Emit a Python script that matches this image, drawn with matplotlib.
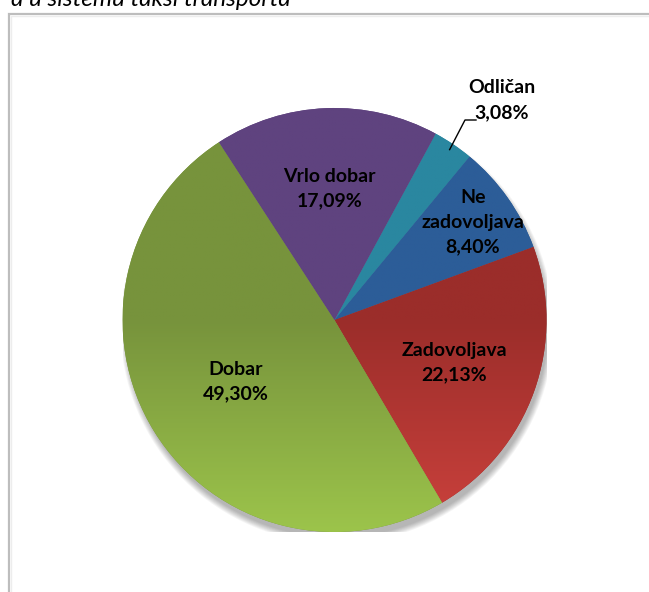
import matplotlib
matplotlib.use("Agg")
import matplotlib.pyplot as plt
import matplotlib.colors as mcolors
from matplotlib.patches import Rectangle, Circle
import numpy as np

categories = ["Odličan", "Ne\nzadovoljava", "Zadovoljava", "Dobar", "Vrlo dobar"]
values = [3.08, 8.40, 22.13, 49.30, 17.09]
colors = ["#2A87A0", "#2C5D98", "#9B2D2A", "#77933C", "#5F437F"]
light_colors = ["#3AA3C0", "#3A72B5", "#CC423D", "#9CC44B", "#7456A0"]
title_text = "a u sistemu taksi transporta"

W, H = 649, 592
fig = plt.figure(figsize=(W / 100, H / 100), dpi=100)
fig.patch.set_facecolor("white")

# frame of the chart area
fig.patches.append(Rectangle((9 / W, -0.1), 1.2, (H - 13.5) / H + 0.1,
                             transform=fig.transFigure, fill=False,
                             edgecolor="#BDBDBD", linewidth=1.6))
fig.patches.append(Rectangle((11 / W, -0.1), 1.2, (H - 15.5) / H + 0.1,
                             transform=fig.transFigure, fill=False,
                             edgecolor="#EDEDED", linewidth=1.0))

# cut-off title (only its lower part is visible, as in the reference)
fig.text(291 / W, 1 - 6 / H, title_text, ha="right", va="baseline",
         fontsize=17.5, style="italic", family="Lato", color="#000000")

cx, cy, r = 334.5, 320, 212
ax = fig.add_axes([(cx - r) / W, (H - cy - r) / H, 2 * r / W, 2 * r / H])
ax.set_xlim(-1, 1)
ax.set_ylim(-1, 1)
ax.axis("off")

# soft shadow
for i in range(8):
    ax.add_patch(Circle((0.012, -0.032), 1.0 + 0.004 * (8 - i) - 0.01,
                        facecolor="#000000", alpha=0.04, edgecolor="none",
                        zorder=0))

start = 90 - 28.5
wedges, _ = ax.pie(values, colors=colors, startangle=start, counterclock=False,
                   radius=1, center=(0, 0), frame=True,
                   wedgeprops=dict(edgecolor="none", linewidth=0))
ax.set_xlim(-1, 1)
ax.set_ylim(-1, 1)
ax.axis("off")

# vertical gradient: base colour on upper half, lighter toward the bottom
ny = 300
yy = np.linspace(1, -1, ny)
t = np.clip(-yy, 0, 1)[:, None]
for w, c1, c2 in zip(wedges, colors, light_colors):
    a = np.array(mcolors.to_rgb(c1))
    b = np.array(mcolors.to_rgb(c2))
    img = a[None, :] * (1 - t) + b[None, :] * t
    img = np.repeat(img[:, None, :], 2, axis=1)
    im = ax.imshow(img, extent=(-1, 1, -1, 1), aspect="auto",
                   interpolation="bilinear", zorder=2)
    im.set_clip_path(w)

# labels
label_r = [None, 0.80, 0.60, 0.55, 0.62]
fs = 14
ls = 1.55
for w, cat, v, lr in zip(wedges, categories, values, label_r):
    txt = cat + "\n" + f"{v:.2f}".replace(".", ",") + "%"
    mid = np.deg2rad((w.theta1 + w.theta2) / 2)
    if lr is None:
        continue
    ax.text(lr * np.cos(mid), lr * np.sin(mid), txt, ha="center", va="center",
            fontsize=fs, fontweight="bold", family="Lato", linespacing=ls,
            zorder=5)

# outside label for the small slice with leader line
w0 = wedges[0]
mid0 = np.deg2rad((w0.theta1 + w0.theta2) / 2)
p0 = (0.97 * np.cos(mid0), 0.97 * np.sin(mid0))
def px2d(x, y):
    return ((x - cx) / r, (cy - y) / r)
p1 = px2d(465, 120)
p2 = px2d(476, 120)
ax.plot([p0[0], p1[0], p2[0]], [p0[1], p1[1], p2[1]], color="black",
        lw=1.0, zorder=5, clip_on=False)
lx, ly = px2d(502, 100)
ax.text(lx, ly, categories[0] + "\n" + f"{values[0]:.2f}".replace(".", ",") + "%",
        ha="center", va="center", fontsize=fs, fontweight="bold", family="Lato",
        linespacing=ls, zorder=5, clip_on=False)

fig.savefig("out.png", dpi=100)
